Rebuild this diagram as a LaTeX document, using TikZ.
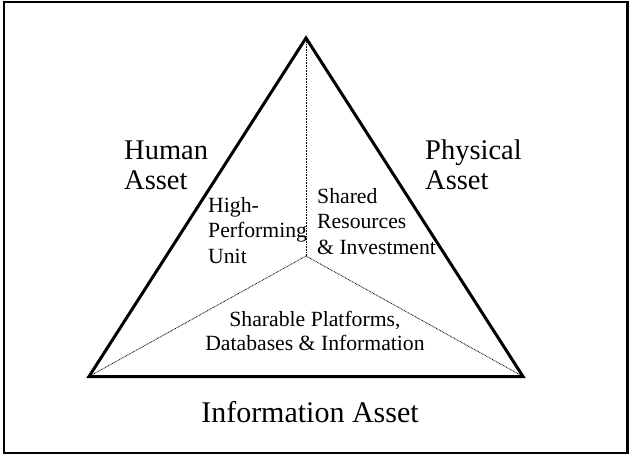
\documentclass[tikz,border=0pt]{standalone}
\usepackage{fontspec}
\setmainfont{Liberation Serif}
\begin{document}
\begin{tikzpicture}[x=1pt,y=-1pt,
  big/.style={font=\fontsize{28.5}{30}\selectfont, inner sep=0pt},
  bigger/.style={font=\fontsize{30}{32}\selectfont, inner sep=0pt},
  small/.style={font=\fontsize{21.7}{25.5}\selectfont, inner sep=0pt},
  tri/.style={line width=3pt, line join=miter},
  spoke/.style={line width=0.8pt, dash pattern=on 0.8pt off 0.8pt},
  frame/.style={line width=2.5pt}]
\useasboundingbox (0,0) rectangle (629,455);
\draw[frame] (4,2) rectangle (627.5,453);
\coordinate (A) at (306,38);
\coordinate (B) at (89,376.5);
\coordinate (C) at (523,376.5);
\coordinate (O) at (306,256);
\draw[spoke] (O) -- (A);
\draw[spoke] (O) -- (B);
\draw[spoke] (O) -- (C);
\draw[tri] (A) -- (B) -- (C) -- cycle;
\node[big, anchor=base west, align=left] (human) at (124,189) {Human\\Asset};
\node[big, anchor=base west, align=left] (physical) at (425,189) {Physical\\Asset};
\node[bigger, anchor=base] (info) at (310,422) {Information Asset};
\node[small, anchor=base west, align=left] (hpu) at (208,263) {High-\\Performing\\Unit};
\node[small, anchor=base west, align=left] (sri) at (317,254) {Shared\\Resources\\\& Investment};
\node[small, anchor=base, align=center, font=\fontsize{21.7}{24}\selectfont] (spd) at (315,350) {Sharable Platforms,\\Databases \& Information};
\end{tikzpicture}
\end{document}
